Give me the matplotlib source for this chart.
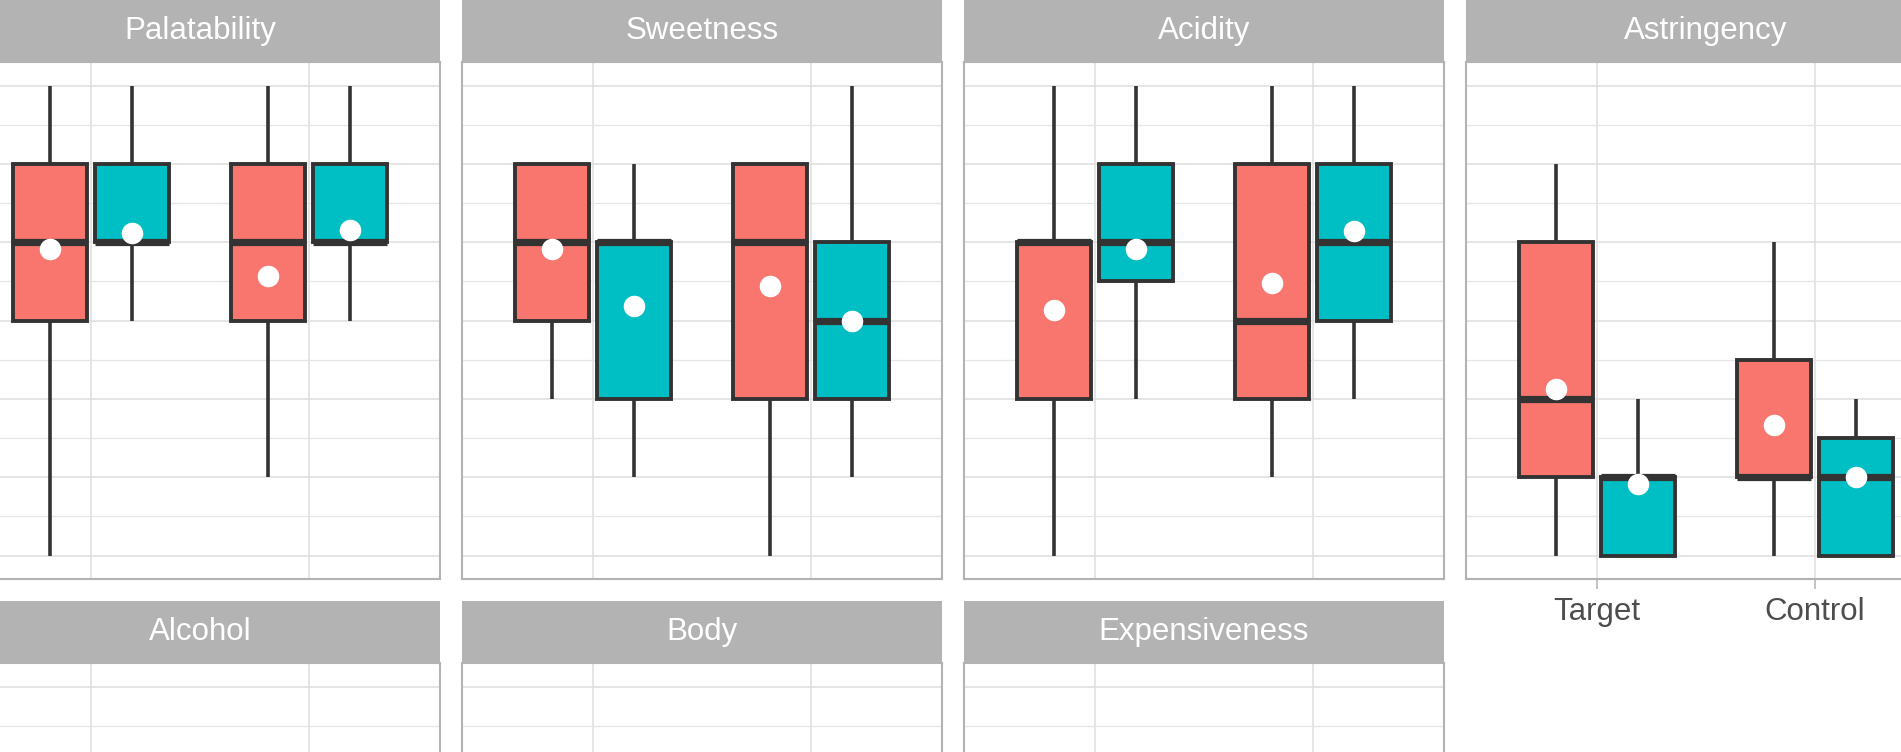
import numpy as np
import matplotlib
matplotlib.use('Agg')
import matplotlib.pyplot as plt

plt.rcParams['font.family'] = ['Liberation Sans', 'DejaVu Sans']

# panels in facet order (top row fully visible, bottom row cut off)
attributes = ['Palatability', 'Sweetness', 'Acidity', 'Astringency',
              'Alcohol', 'Body', 'Expensiveness']
groups = ['Target', 'Control']

# each row: [Target-red, Target-teal, Control-red, Control-teal]
whisker_low = [[1, 4, 2, 4], [3, 2, 1, 2], [1, 3, 2, 3], [1, 1, 1, 1]]
q1 = [[4, 5, 4, 5], [4, 3, 3, 3], [3, 4.5, 3, 4], [2, 1, 2, 1]]
median = [[5, 5, 5, 5], [5, 5, 5, 4], [5, 5, 4, 5], [3, 2, 2, 2]]
q3 = [[6, 6, 6, 6], [6, 5, 6, 5], [5, 6, 6, 6], [5, 2, 3.5, 2.5]]
whisker_high = [[7, 7, 7, 7], [6, 6, 6, 7], [7, 7, 7, 7], [6, 3, 5, 3]]
means = [[4.91, 5.12, 4.57, 5.15], [4.91, 4.18, 4.44, 4.0],
         [4.13, 4.91, 4.48, 5.14], [3.13, 1.91, 2.66, 2.0]]

fill_colors = ['#F8766D', '#00BFC4', '#F8766D', '#00BFC4']

W, H = 1901, 752
fig = plt.figure(figsize=(W / 100, H / 100), dpi=100)

pw, ph = 480, 517      # panel size in px
sh = 62                # strip height
x0, xstep = -40, 502
row_top = [62, 663]

grey70 = '#B3B3B3'
edge = '#333333'

def px_axes(left, top, width, height):
    return fig.add_axes([left / W, 1 - (top + height) / H, width / W, height / H])

for i, name in enumerate(attributes):
    r, c = divmod(i, 4)
    left = x0 + c * xstep
    top = row_top[r]

    # strip
    sax = px_axes(left, top - sh, pw, sh)
    sax.set_facecolor(grey70)
    for s in sax.spines.values():
        s.set_visible(False)
    sax.set_xticks([])
    sax.set_yticks([])
    sax.text(0.5, 0.5, name, color='white', fontsize=22.5,
             ha='center', va='center', transform=sax.transAxes)

    # panel
    ax = px_axes(left, top, pw, ph)
    ax.set_xlim(0.4, 2.6)
    ax.set_ylim(0.7, 7.3)
    ax.set_xticks([1, 2])
    ax.set_yticks(np.arange(1, 8))
    ax.set_yticks(np.arange(1.5, 7, 1), minor=True)
    ax.set_axisbelow(True)
    ax.grid(which='major', color='#DEDEDE', lw=1.1)
    ax.grid(which='minor', axis='y', color='#E6E6E6', lw=0.9)
    for s in ax.spines.values():
        s.set_color(grey70)
        s.set_linewidth(1.5)
    ax.tick_params(axis='y', which='both', left=False, labelleft=False)

    if i == 3:
        ax.set_xticklabels(groups)
        ax.tick_params(axis='x', length=7, width=1.1, color=grey70,
                       labelsize=22.5, labelcolor='#4D4D4D', pad=6)
    else:
        ax.tick_params(axis='x', bottom=False, labelbottom=False)

    if i >= 4:
        continue

    stats = []
    for k in range(4):
        stats.append(dict(whislo=whisker_low[i][k], q1=q1[i][k],
                          med=median[i][k], q3=q3[i][k],
                          whishi=whisker_high[i][k], mean=means[i][k],
                          fliers=[]))
    pos = [1 - 0.1875, 1 + 0.1875, 2 - 0.1875, 2 + 0.1875]
    bp = ax.bxp(stats, positions=pos, widths=0.3375, patch_artist=True,
                showmeans=True, showcaps=False, showfliers=False,
                boxprops=dict(edgecolor=edge, linewidth=2.8),
                whiskerprops=dict(color=edge, linewidth=2.6, solid_capstyle='butt'),
                medianprops=dict(color=edge, linewidth=5.2, solid_capstyle='butt'),
                meanprops=dict(marker='o', markerfacecolor='white',
                               markeredgecolor='white', markersize=14.5),
                manage_ticks=False)
    for patch, col in zip(bp['boxes'], fill_colors):
        patch.set_facecolor(col)
        patch.set_joinstyle('miter')

fig.savefig('out.png', dpi=100)
